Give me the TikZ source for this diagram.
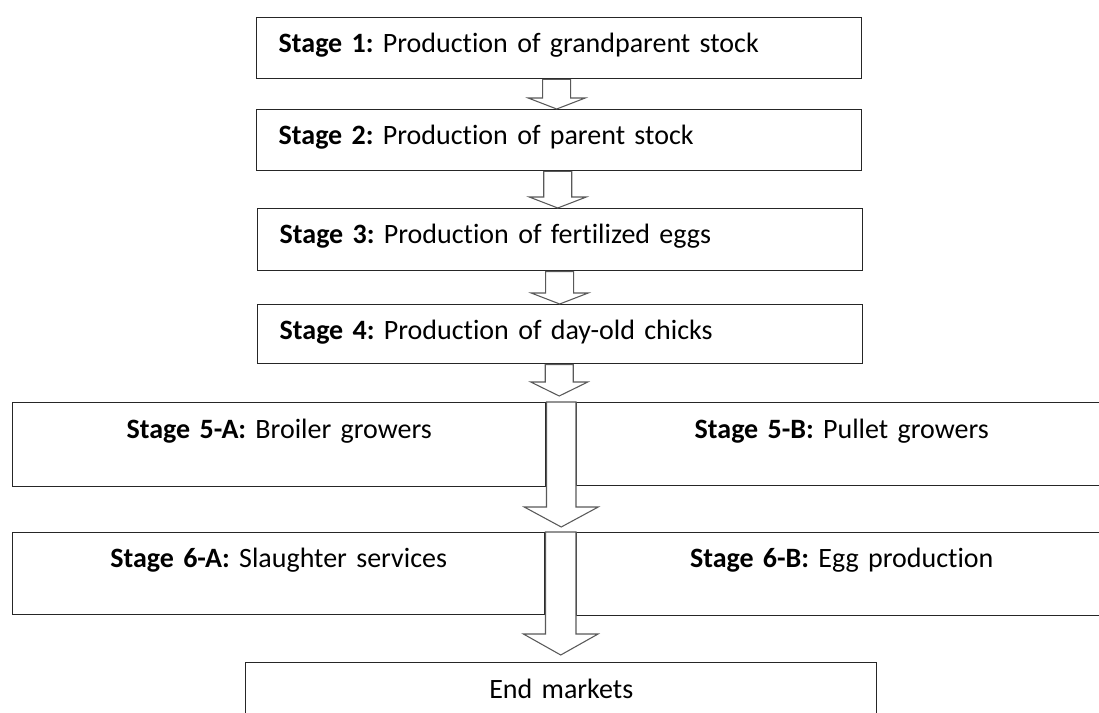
\documentclass[tikz,border=0pt]{standalone}
\usepackage{fontspec}
\setmainfont{Carlito}[Ligatures=NoCommon]
\usetikzlibrary{calc}

\newcommand{\stagefont}{\fontsize{21}{25}\selectfont\frenchspacing\spaceskip 0.2em\relax}

\tikzset{
  stagebox/.style={draw=black!85, line width=1.1pt, anchor=north west,
    inner xsep=0pt, inner ysep=0pt, align=center, font=\stagefont},
  topbox/.style={stagebox, inner xsep=16.5pt, text width=420.75pt, align=left,
    text height=26.25pt, text depth=19.5pt},
  arrowline/.style={draw=black!65, line width=0.8pt, fill=white, line join=miter}
}

% block arrow: shaft left top, shaft right top, tip, head half width, head length
\newcommand{\blockarrow}[5]{%
  \draw[arrowline] let \p1=(#1), \p2=(#2), \p3=(#3) in
    (\x1,\y1) -- (\x1,\y3+#5) -- ({(\x1+\x2)/2-#4},\y3+#5) -- ({(\x1+\x2)/2},\y3)
    -- ({(\x1+\x2)/2+#4},\y3+#5) -- (\x2,\y3+#5) -- (\x2,\y2) -- cycle;}

\begin{document}
\begin{tikzpicture}[x=0.75pt,y=-0.75pt]
    \useasboundingbox (0,0) rectangle (1099,713);
    \clip (0,0) rectangle (1099,713);

    % Stages 1 to 4
    \node[topbox] (s1) at (256,17) {\textbf{Stage 1:} Production of grandparent stock};
    \node[topbox] (s2) at (256,109) {\textbf{Stage 2:} Production of parent stock};
    \node[topbox, text depth=20.25pt] (s3) at (257,208) {\textbf{Stage 3:} Production of fertilized eggs};
    \node[topbox, text depth=18pt] (s4) at (257,304) {\textbf{Stage 4:} Production of day-old chicks};

    % Stage 5
    \node[stagebox, text width=399.75pt, text height=27pt, text depth=36pt] (s5a) at (12,402)
        {\textbf{Stage 5-A:} Broiler growers};
    \node[stagebox, text width=397.5pt, text height=27pt, text depth=35.25pt] (s5b) at (576,402)
        {\textbf{Stage 5-B:} Pullet growers};

    % Stage 6
    \node[stagebox, text width=399pt, text height=26.25pt, text depth=35.25pt] (s6a) at (12,532)
        {\textbf{Stage 6-A:} Slaughter services};
    \node[stagebox, text width=397.5pt, text height=26.25pt, text depth=36pt] (s6b) at (576,532)
        {\textbf{Stage 6-B:} Egg production};

    % End markets
    \node[stagebox, text width=473.25pt, text height=27pt, text depth=33pt] (end) at (245,662)
        {End markets};

    % Arrows
    \blockarrow{[xshift=-12.4pt]s1.south}{[xshift=8.6pt]s1.south}{s2.north}{21.4pt}{8.25pt}
    \blockarrow{[xshift=-11.6pt]s2.south}{[xshift=9.4pt]s2.south}{s3.north}{21.4pt}{8.25pt}
    \blockarrow{[xshift=-10.9pt]s3.south}{[xshift=10.1pt]s3.south}{s4.north}{21.4pt}{8.25pt}
    \blockarrow{[xshift=-11.25pt]s4.south}{[xshift=9.75pt]s4.south}{[yshift=4.5pt]s5a.north}{21.4pt}{10.5pt}
    \blockarrow{s5a.north east}{s5b.north west}{[yshift=3.75pt]s6a.north}{27.75pt}{15pt}
    \blockarrow{s6a.north east}{s6b.north west}{[yshift=5.25pt]end.north}{28pt}{15.75pt}
\end{tikzpicture}
\end{document}
